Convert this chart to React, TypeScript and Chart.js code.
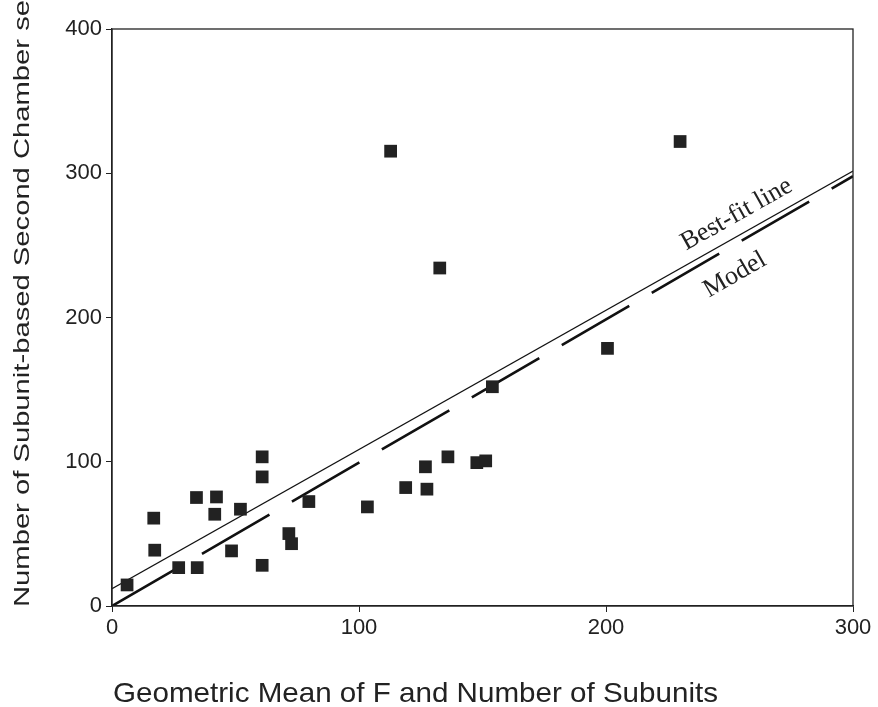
import React, { useEffect, useRef } from 'react';
import { Chart, registerables } from 'chart.js';

Chart.register(...registerables);

// ---- data ----
const xValues = [6.1, 16.9, 17.3, 27.0, 34.2, 34.5, 42.3, 41.6, 48.4, 52.0, 60.8, 60.8, 60.8, 71.6, 72.7, 79.7, 103.4, 112.8, 118.9, 126.9, 127.5, 132.7, 136.0, 147.7, 151.3, 154.0, 200.6, 230.0];
const yValues = [14.6, 60.9, 38.7, 26.6, 75.2, 26.6, 75.6, 63.6, 38.2, 67.1, 103.4, 89.5, 28.2, 50.2, 43.2, 72.4, 68.7, 315.3, 82.1, 96.5, 81.0, 234.3, 103.4, 99.4, 100.6, 152.0, 178.6, 322.0];
const bestFitX = [0, 300];
const bestFitY = [12, 301.5];
const modelX = [0, 300];
const modelY = [0, 298];
const xTicks = [0, 100, 200, 300];
const yTicks = [0, 100, 200, 300, 400];
const xTitle = 'Geometric Mean of F and Number of Subunits';
const yTitle = 'Number of Subunit-based Second Chamber seats';
const bestFitLabel = 'Best-fit line';
const modelLabel = 'Model';
const labelAnchorX = 235;

const INK = '#222222';
const SANS = '"Liberation Sans", Arial, sans-serif';
const SERIF = '"Liberation Serif", "Times New Roman", serif';

const decorPlugin = {
  id: 'decor',
  afterDraw(chart: any) {
    const { ctx, chartArea, scales } = chart;
    const xs = scales.x;
    const ys = scales.y;
    ctx.save();
    // frame
    ctx.strokeStyle = INK;
    ctx.lineWidth = 1.3;
    ctx.strokeRect(chartArea.left, chartArea.top, chartArea.right - chartArea.left, chartArea.bottom - chartArea.top);

    // x title
    ctx.fillStyle = INK;
    ctx.font = `28px ${SANS}`;
    ctx.textAlign = 'left';
    ctx.textBaseline = 'alphabetic';
    const xw = ctx.measureText(xTitle).width;
    ctx.save();
    ctx.translate(113, 702);
    ctx.scale(605 / xw, 1);
    ctx.fillText(xTitle, 0, 0);
    ctx.restore();

    // y title (stretched along its length)
    ctx.font = `22px ${SANS}`;
    const part = ctx.measureText('Number of Subunit-based Second Chamber se').width;
    ctx.save();
    ctx.translate(29, 607);
    ctx.rotate(-Math.PI / 2);
    ctx.scale(607 / part, 1);
    ctx.fillText(yTitle, 0, 0);
    ctx.restore();

    // line labels
    const drawLabel = (lx: number[], ly: number[], text: string, d: number) => {
      const slope = (ly[1] - ly[0]) / (lx[1] - lx[0]);
      const yAt = ly[0] + slope * (labelAnchorX - lx[0]);
      const px = xs.getPixelForValue(labelAnchorX);
      const py = ys.getPixelForValue(yAt);
      const p0x = xs.getPixelForValue(lx[0]);
      const p0y = ys.getPixelForValue(ly[0]);
      const p1x = xs.getPixelForValue(lx[1]);
      const p1y = ys.getPixelForValue(ly[1]);
      const ang = Math.atan2(p1y - p0y, p1x - p0x);
      ctx.save();
      ctx.translate(px, py);
      ctx.rotate(ang);
      ctx.font = `26px ${SERIF}`;
      ctx.fillStyle = INK;
      ctx.textAlign = 'left';
      ctx.textBaseline = 'alphabetic';
      ctx.fillText(text, 0, d);
      ctx.restore();
    };
    drawLabel(bestFitX, bestFitY, bestFitLabel, -12.6);
    drawLabel(modelX, modelY, modelLabel, 33);
    ctx.restore();
  },
};

export default function App() {
  const ref = useRef<HTMLCanvasElement | null>(null);
  useEffect(() => {
    document.body.style.margin = '0';
    const canvas = ref.current;
    if (!canvas) return;
    const points = xValues.map((x, i) => ({ x, y: yValues[i] }));
    const best = bestFitX.map((x, i) => ({ x, y: bestFitY[i] }));
    const model = modelX.map((x, i) => ({ x, y: modelY[i] }));
    const chart = new Chart(canvas, {
      type: 'scatter',
      data: {
        datasets: [
          {
            label: 'Observations',
            data: points,
            pointStyle: 'rect',
            pointRadius: 9,
            pointBackgroundColor: INK,
            pointBorderColor: INK,
            pointBorderWidth: 0,
            order: 0,
          } as any,
          {
            label: bestFitLabel,
            data: best,
            showLine: true,
            borderColor: '#111',
            borderWidth: 1.1,
            pointRadius: 0,
            order: 1,
          },
          {
            label: modelLabel,
            data: model,
            showLine: true,
            borderColor: '#111',
            borderWidth: 2.6,
            borderDash: [78, 26],
            pointRadius: 0,
            order: 2,
          },
        ],
      },
      plugins: [decorPlugin],
      options: {
        responsive: false,
        animation: false,
        devicePixelRatio: 1,
        layout: { padding: { top: 29, right: 25, left: 0, bottom: 0 } },
        plugins: { legend: { display: false }, tooltip: { enabled: false } },
        scales: {
          x: {
            type: 'linear',
            min: 0,
            max: 300,
            afterFit: (s: any) => { s.height = 101; },
            afterBuildTicks: (s: any) => { s.ticks = xTicks.map((v) => ({ value: v })); },
            grid: { drawOnChartArea: false, drawTicks: true, tickLength: 6, color: INK, lineWidth: 1 },
            border: { display: true, color: INK, width: 1.3 },
            ticks: { color: INK, font: { family: SANS, size: 22 }, padding: 3, maxRotation: 0 },
          },
          y: {
            type: 'linear',
            min: 0,
            max: 400,
            afterFit: (s: any) => { s.width = 112; },
            afterBuildTicks: (s: any) => { s.ticks = yTicks.map((v) => ({ value: v })); },
            grid: { drawOnChartArea: false, drawTicks: true, tickLength: 6, color: INK, lineWidth: 1 },
            border: { display: true, color: INK, width: 1.3 },
            ticks: { color: INK, font: { family: SANS, size: 22 }, padding: 4 },
          },
        },
      },
    });
    return () => chart.destroy();
  }, []);
  return (
    <div style={{ width: 878, height: 707, background: '#fff' }}>
      <canvas ref={ref} width={878} height={707} style={{ display: 'block' }} />
    </div>
  );
}
